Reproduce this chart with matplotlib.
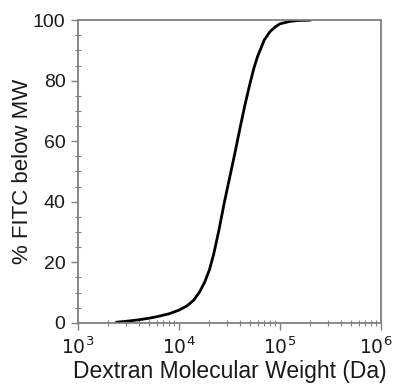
import matplotlib
matplotlib.use("Agg")
import matplotlib.pyplot as plt
import matplotlib.transforms as mtransforms
from matplotlib.ticker import LogLocator, MultipleLocator

plt.rcParams['font.family'] = ['Liberation Sans', 'DejaVu Sans']

mw = [2400, 3000, 4000, 5000, 6000, 8000, 10000, 12000, 14000, 16000, 18000, 20000,
      22000, 25000, 28000, 32000, 36000, 40000, 45000, 50000, 55000, 60000,
      70000, 80000, 90000, 100000, 125000, 150000, 200000]
pct = [0.2, 0.5, 1.0, 1.5, 2.0, 3.0, 4.2, 5.6, 7.5, 10.2, 13.5, 17.5,
       22.5, 31.0, 39.5, 48.5, 56.5, 64.0, 72.0, 78.5, 84.0, 88.0,
       93.5, 96.3, 97.8, 98.8, 99.6, 99.9, 100.0]

xticks = [1e3, 1e4, 1e5, 1e6]
xticklabels = ['$10^3$', '$10^4$', '$10^5$', '$10^6$']
yticks = [0, 20, 40, 60, 80, 100]

fig = plt.figure(figsize=(3.96, 3.88), dpi=100)
ax = fig.add_axes([0.197, 0.168, 0.765, 0.780])
ax.plot(mw, pct, color='black', lw=2.0, solid_capstyle='round', solid_joinstyle='round')
ax.set_xscale('log')
ax.set_xlim(1e3, 1e6)
ax.set_ylim(0, 100)
ax.set_xticks(xticks)
ax.set_xticklabels(xticklabels)
ax.xaxis.set_minor_locator(LogLocator(base=10, subs=range(2, 10), numticks=20))
ax.set_yticks(yticks)
ax.yaxis.set_minor_locator(MultipleLocator(5))

grey = '#808080'
for s in ax.spines.values():
    s.set_color(grey)
    s.set_linewidth(1.3)
ax.tick_params(which='major', direction='out', length=5, width=1.0, color=grey,
               labelsize=14, labelcolor='#1a1a1a', pad=4)
ax.tick_params(which='minor', direction='inout', length=4, width=0.8, color=grey)
ax.tick_params(axis='x', which='major', pad=5)
xlbls = ax.get_xticklabels()
for lbl in xlbls:
    lbl.set_fontsize(13.5)
last = xlbls[-1]
last.set_transform(last.get_transform() + mtransforms.ScaledTranslation(-5 / 100, 0, fig.dpi_scale_trans))

ax.set_xlabel('Dextran Molecular Weight (Da)', fontsize=16.5, color='#1a1a1a', labelpad=1)
ax.set_ylabel('% FITC below MW', fontsize=16, color='#1a1a1a', labelpad=0)

fig.savefig('out.png', dpi=100)
